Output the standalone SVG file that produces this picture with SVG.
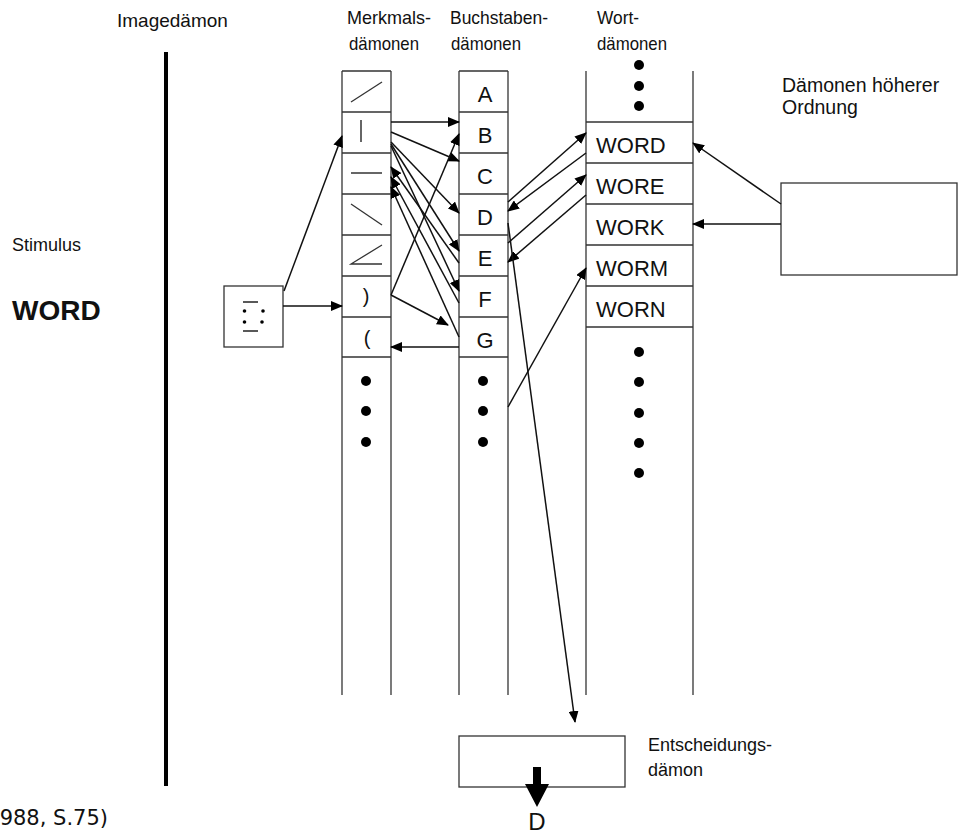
<svg xmlns="http://www.w3.org/2000/svg" width="966" height="836" viewBox="0 0 966 836">
<style>
text{font-family:"Liberation Sans",Arial,sans-serif;fill:#111}
.lbl{font-size:19.5px}
.hdr{font-size:19px}
.sm{font-size:18px}
.big{font-size:22px}
.ln{stroke:#333;stroke-width:1.3;fill:none}
.con{stroke:#111;stroke-width:1.5;fill:none;marker-end:url(#ah)}
.dot{fill:#000}
</style>
<defs>
<marker id="ah" markerWidth="12" markerHeight="10" refX="11" refY="5" orient="auto" markerUnits="userSpaceOnUse"><path d="M0,0 L12,5 L0,10 z" fill="#000"/></marker>
</defs>
<rect width="966" height="836" fill="#fff"/>

<g id="headers">
<text class="hdr" x="117" y="27">Imagedämon</text>
<text class="hdr" x="347" y="24" textLength="84" lengthAdjust="spacingAndGlyphs">Merkmals-</text>
<text class="hdr" x="349" y="50" textLength="70" lengthAdjust="spacingAndGlyphs">dämonen</text>
<text class="hdr" x="450" y="24" textLength="98" lengthAdjust="spacingAndGlyphs">Buchstaben-</text>
<text class="hdr" x="451" y="50" textLength="70" lengthAdjust="spacingAndGlyphs">dämonen</text>
<text class="hdr" x="597" y="24" textLength="42" lengthAdjust="spacingAndGlyphs">Wort-</text>
<text class="hdr" x="597" y="50" textLength="70" lengthAdjust="spacingAndGlyphs">dämonen</text>
</g>

<g id="imagedaemon">
<line x1="166" y1="52" x2="166" y2="786" stroke="#000" stroke-width="4"/>
</g>

<g id="stimulus">
<text class="sm" x="12" y="251">Stimulus</text>
<text x="12" y="320" font-size="28" font-weight="bold" fill="#000">WORD</text>
<rect class="ln" x="224" y="286" width="59" height="61"/>
<line x1="243" y1="302" x2="258" y2="302" stroke="#222" stroke-width="1.5"/>
<line x1="243" y1="331" x2="258" y2="331" stroke="#222" stroke-width="1.5"/>
<circle class="dot" cx="244.5" cy="311" r="1.8"/>
<circle class="dot" cx="244.5" cy="322" r="1.8"/>
<circle class="dot" cx="263" cy="311" r="1.8"/>
<circle class="dot" cx="262" cy="322" r="1.8"/>
</g>

<g id="merkmal-column">
<line class="ln" x1="342" y1="71" x2="342" y2="695"/>
<line class="ln" x1="391" y1="71" x2="391" y2="695"/>
<path class="ln" d="M342,71H391M342,112H391M342,153H391M342,194H391M342,235H391M342,276H391M342,317H391M342,357H391"/>
<line x1="351" y1="102" x2="382" y2="82" stroke="#333" stroke-width="1.3"/>
<line x1="361" y1="120" x2="361" y2="142" stroke="#333" stroke-width="1.5"/>
<line x1="351" y1="173" x2="382" y2="173" stroke="#333" stroke-width="1.5"/>
<line x1="351" y1="204" x2="382" y2="225" stroke="#333" stroke-width="1.3"/>
<path d="M382,245L351,264H382" stroke="#333" stroke-width="1.3" fill="none"/>
<text x="366" y="303" font-size="20" text-anchor="middle">)</text>
<text x="367" y="345" font-size="20" text-anchor="middle">(</text>
<circle class="dot" cx="366" cy="381" r="5"/>
<circle class="dot" cx="366" cy="411" r="5"/>
<circle class="dot" cx="366" cy="442" r="5"/>
</g>

<g id="buchstaben-column">
<line class="ln" x1="459" y1="71" x2="459" y2="695"/>
<line class="ln" x1="508" y1="71" x2="508" y2="695"/>
<path class="ln" d="M459,71H508M459,112H508M459,153H508M459,194H508M459,235H508M459,276H508M459,317H508M459,357H508"/>
<text class="big" x="485" y="102" text-anchor="middle">A</text>
<text class="big" x="485" y="143" text-anchor="middle">B</text>
<text class="big" x="485" y="184" text-anchor="middle">C</text>
<text class="big" x="485" y="225" text-anchor="middle">D</text>
<text class="big" x="485" y="266" text-anchor="middle">E</text>
<text class="big" x="485" y="307" text-anchor="middle">F</text>
<text class="big" x="485" y="348" text-anchor="middle">G</text>
<circle class="dot" cx="483" cy="381" r="5"/>
<circle class="dot" cx="483" cy="411" r="5"/>
<circle class="dot" cx="483" cy="442" r="5"/>
</g>

<g id="wort-column">
<line class="ln" x1="586" y1="71" x2="586" y2="695"/>
<line class="ln" x1="693" y1="71" x2="693" y2="695"/>
<path class="ln" d="M586,122H693M586,163H693M586,204H693M586,245H693M586,286H693M586,327H693"/>
<circle class="dot" cx="639" cy="65" r="5"/>
<circle class="dot" cx="639" cy="86" r="5"/>
<circle class="dot" cx="639" cy="106" r="5"/>
<text class="big" x="596" y="153">WORD</text>
<text class="big" x="596" y="194">WORE</text>
<text class="big" x="596" y="235">WORK</text>
<text class="big" x="596" y="276">WORM</text>
<text class="big" x="596" y="317">WORN</text>
<circle class="dot" cx="639" cy="352" r="5"/>
<circle class="dot" cx="639" cy="382" r="5"/>
<circle class="dot" cx="639" cy="413" r="5"/>
<circle class="dot" cx="639" cy="443" r="5"/>
<circle class="dot" cx="639" cy="473" r="5"/>
</g>

<g id="hoehere-daemonen">
<text class="lbl" x="782" y="92">Dämonen höherer</text>
<text class="lbl" x="782" y="114">Ordnung</text>
<rect class="ln" x="781" y="183" width="176" height="92"/>
</g>

<g id="entscheidungsdaemon">
<rect class="ln" x="459" y="736" width="166" height="51"/>
<text class="sm" x="648" y="751">Entscheidungs-</text>
<text class="sm" x="648" y="776">dämon</text>
<path d="M533,767H541V784H549L537,807L525,784H533Z" fill="#000"/>
<text x="537" y="830" font-size="24" text-anchor="middle">D</text>
</g>

<g id="source">
<text x="108" y="825" font-size="21" text-anchor="end" style="font-family:'DejaVu Sans',Verdana,sans-serif">988, S.75)</text>
</g>

<g id="connectors">
<line class="con" x1="284" y1="291" x2="342" y2="136"/>
<line class="con" x1="283" y1="306" x2="342" y2="306"/>
<line class="con" x1="391" y1="122" x2="459" y2="122"/>
<line class="con" x1="391" y1="132" x2="459" y2="161"/>
<line class="con" x1="391" y1="142" x2="459" y2="213"/>
<line class="con" x1="391" y1="144" x2="459" y2="251"/>
<line class="con" x1="391" y1="146" x2="459" y2="291"/>
<line class="con" x1="459" y1="263" x2="391" y2="167"/>
<line class="con" x1="459" y1="303" x2="391" y2="177"/>
<line class="con" x1="459" y1="337" x2="391" y2="187"/>
<line class="con" x1="391" y1="295" x2="459" y2="134"/>
<line class="con" x1="391" y1="295" x2="448" y2="325"/>
<line class="con" x1="459" y1="347" x2="391" y2="347"/>
<line class="con" x1="508" y1="202" x2="586" y2="133"/>
<line class="con" x1="586" y1="153" x2="508" y2="211"/>
<line class="con" x1="508" y1="243" x2="586" y2="175"/>
<line class="con" x1="586" y1="195" x2="508" y2="262"/>
<line class="con" x1="508" y1="407" x2="586" y2="268"/>
<line class="con" x1="508" y1="223" x2="575" y2="722"/>
<line class="con" x1="781" y1="204" x2="693" y2="143"/>
<line class="con" x1="781" y1="224" x2="693" y2="224"/>
</g>
</svg>
